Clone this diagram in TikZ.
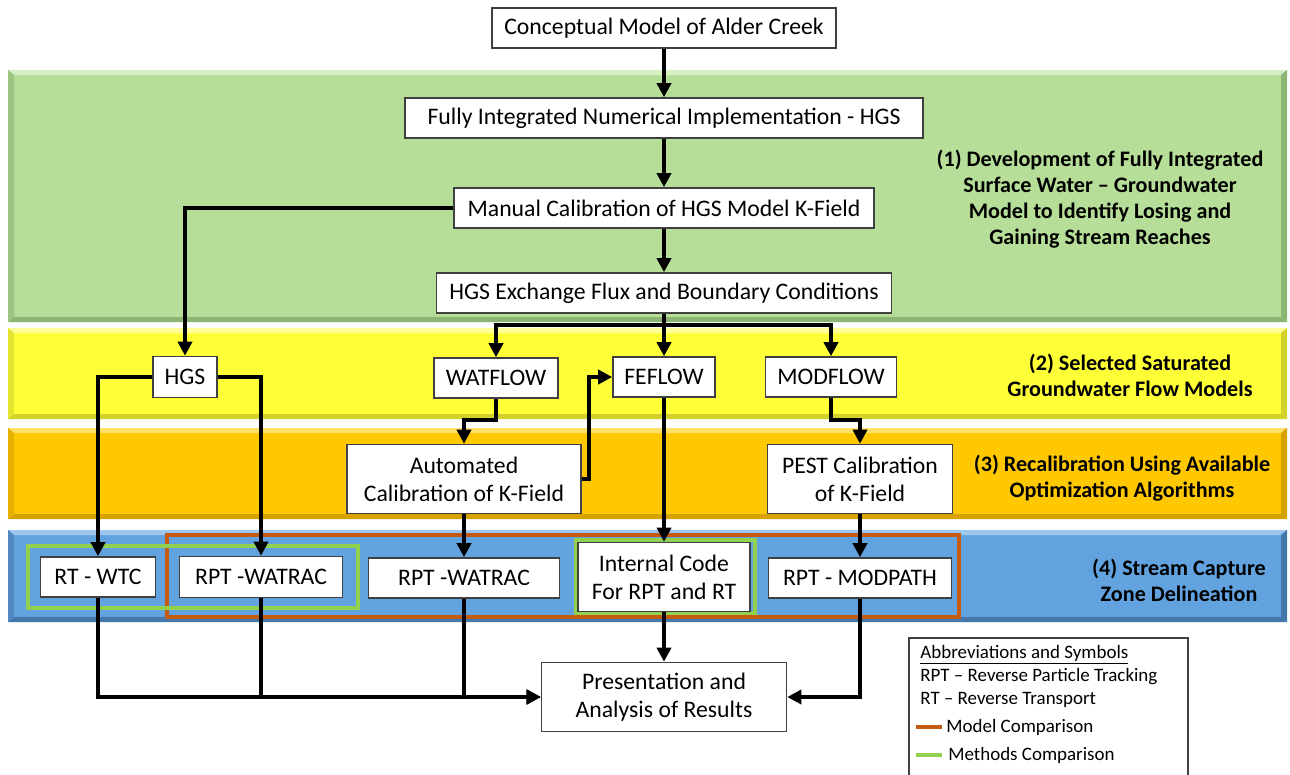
\documentclass[tikz,border=0pt]{standalone}
\usepackage{fontspec}
\setmainfont{Carlito}
\usetikzlibrary{arrows.meta}
\newdimen\pu \pu=0.02cm
\definecolor{boxgray}{HTML}{404040}
\definecolor{gmain}{HTML}{B6DE98}\definecolor{glight}{HTML}{D6EFC4}\definecolor{gdark}{HTML}{8CB573}
\definecolor{ymain}{HTML}{FFFF38}\definecolor{ylight}{HTML}{FFFF9A}\definecolor{ydark}{HTML}{D2D22A}
\definecolor{omain}{HTML}{FFC800}\definecolor{olight}{HTML}{FFE068}\definecolor{odark}{HTML}{D6A200}
\definecolor{bmain}{HTML}{62A3DF}\definecolor{blight}{HTML}{9CC6EE}\definecolor{bdark}{HTML}{4478AA}
\definecolor{cmporange}{HTML}{C55A11}
\definecolor{cmpgreen}{HTML}{92D050}
\newcommand{\bandbox}[5]{%
  \fill[#3] (8,#1) rectangle (1287,#2);
  \fill[#4] (8,#1) -- (1287,#1) -- (1281,#1+5) -- (14,#1+5) -- cycle;
  \fill[#5] (1287,#1) -- (1287,#2) -- (1281,#2-5) -- (1281,#1+5) -- cycle;
  \fill[#5] (8,#2) -- (1287,#2) -- (1281,#2-5) -- (14,#2-5) -- cycle;
  \fill[#5!60!#3] (8,#1) -- (14,#1+5) -- (14,#2-5) -- (8,#2) -- cycle;
}
\begin{document}
\begin{tikzpicture}[x=0.02cm,y=-0.02cm,
  box/.style={draw=boxgray,line width=0.9pt,fill=white,inner sep=0pt,align=center,
    font=\fontsize{13.5}{16}\selectfont},
  arr/.style={line width=2.1pt,-{Triangle[length=8pt,width=8pt]}},
  ln/.style={line width=2.1pt},
  lab/.style={align=center,font=\bfseries\fontsize{12.6}{14.8}\selectfont},
  leg/.style={anchor=west,inner sep=0pt,font=\fontsize{10.8}{12}\selectfont},
  cmpo/.style={draw=cmporange,line width=2pt},
  cmpg/.style={draw=cmpgreen,line width=2pt},
]
\useasboundingbox (0,0) rectangle (1290,774);
% bands
\bandbox{70}{322}{gmain}{glight}{gdark}
\bandbox{328}{419}{ymain}{ylight}{ydark}
\bandbox{428}{519}{omain}{olight}{odark}
\bandbox{530}{622}{bmain}{blight}{bdark}
% band labels
\node[lab] (l1) at (1100,199) {(1) Development of Fully Integrated\\Surface Water -- Groundwater\\Model to Identify Losing and\\Gaining Stream Reaches};
\node[lab] (l2) at (1130,375) {(2) Selected Saturated\\Groundwater Flow Models};
\node[lab] (l3) at (1122,478) {(3) Recalibration Using Available\\Optimization Algorithms};
\node[lab] (l4) at (1179,580) {(4) Stream Capture\\Zone Delineation};
% comparison outlines
\draw[cmpo] (167,535) rectangle (959,617);
\draw[cmpg] (28,546) rectangle (358,608);
\draw[cmpg] (576,540) rectangle (755,613);
% nodes
\node[box,minimum width=344\pu,minimum height=40\pu] (concept) at (664,28) {Conceptual Model of Alder Creek};
\node[box,minimum width=518\pu,minimum height=40\pu] (fully) at (664,118) {Fully Integrated Numerical Implementation - HGS};
\node[box,minimum width=420\pu,minimum height=40\pu] (manual) at (664,208) {Manual Calibration of HGS Model K-Field};
\node[box,minimum width=455\pu,minimum height=40\pu] (exch) at (664,293) {HGS Exchange Flux and Boundary Conditions};
\node[box,minimum width=64\pu,minimum height=41\pu] (hgs) at (185,377) {HGS};
\node[box,minimum width=124\pu,minimum height=40\pu] (watflow) at (496,378) {WATFLOW};
\node[box,minimum width=102\pu,minimum height=40\pu] (feflow) at (664,377) {FEFLOW};
\node[box,minimum width=131\pu,minimum height=40\pu] (modflow) at (831,377) {MODFLOW};
\node[box,minimum width=234\pu,minimum height=69\pu] (auto) at (464,479) {Automated\\Calibration of K-Field};
\node[box,minimum width=185\pu,minimum height=69\pu] (pest) at (860,479) {PEST Calibration\\of K-Field};
\node[box,minimum width=115\pu,minimum height=40\pu] (rtwtc) at (98,577) {RT - WTC};
\node[box,minimum width=163\pu,minimum height=41\pu] (rptw1) at (261,577) {RPT -WATRAC};
\node[box,minimum width=191\pu,minimum height=40\pu] (rptw2) at (464,578) {RPT -WATRAC};
\node[box,minimum width=172\pu,minimum height=69\pu] (internal) at (664,577) {Internal Code\\For RPT and RT};
\node[box,minimum width=183\pu,minimum height=40\pu] (modpath) at (860,578) {RPT - MODPATH};
\node[box,minimum width=245\pu,minimum height=69\pu] (pres) at (664,697) {Presentation and\\Analysis of Results};
% connectors
\draw[arr] (concept) -- (fully);
\draw[arr] (fully) -- (manual);
\draw[arr] (manual) -- (exch);
\draw[arr] (manual.west) -| (hgs.north);
\coordinate (j) at (664,325);
\draw[ln] (exch.south) -- (j);
\draw[arr] (j) -| (watflow.north);
\draw[arr] (j) -- (feflow.north);
\draw[arr] (j) -| (modflow.north);
\draw[arr] (hgs.west) -| (rtwtc.north);
\draw[arr] (hgs.east) -| (rptw1.north);
\draw[arr] (watflow.south) -- (watflow.south |- 0,420) -| (auto.north);
\coordinate (af) at (589,479);
\draw[arr] (auto.east) -- (af) |- (feflow.west);
\draw[arr] (auto) -- (rptw2);
\draw[arr] (feflow) -- (internal);
\draw[arr] (modflow.south) -- (modflow.south |- 0,420) -| (pest.north);
\draw[arr] (pest) -- (modpath);
\draw[arr] (rtwtc.south) |- (pres.west);
\draw[arr] (rptw1.south) |- (pres.west);
\draw[arr] (rptw2.south) |- (pres.west);
\draw[arr] (internal) -- (pres);
\draw[arr] (modpath.south) |- (pres.east);
% legend
\draw[boxgray,line width=0.7pt] (909,776) -- (909,638) -- (1188,638) -- (1188,776);
\node[leg] (lg1) at (920,655) {\underline{Abbreviations and Symbols}};
\node[leg] (lg2) at (920,677) {RPT -- Reverse Particle Tracking};
\node[leg] (lg3) at (920,700) {RT -- Reverse Transport};
\coordinate (lo1) at (916,727);
\coordinate (lo2) at (942,727);
\draw[cmporange,line width=2pt] (lo1) -- (lo2);
\node[leg] (lg4) at (946,727) {Model Comparison};
\coordinate (lgr1) at (916,755);
\coordinate (lgr2) at (942,755);
\draw[cmpgreen,line width=2pt] (lgr1) -- (lgr2);
\node[leg] (lg5) at (948,755) {Methods Comparison};
\end{tikzpicture}
\end{document}
